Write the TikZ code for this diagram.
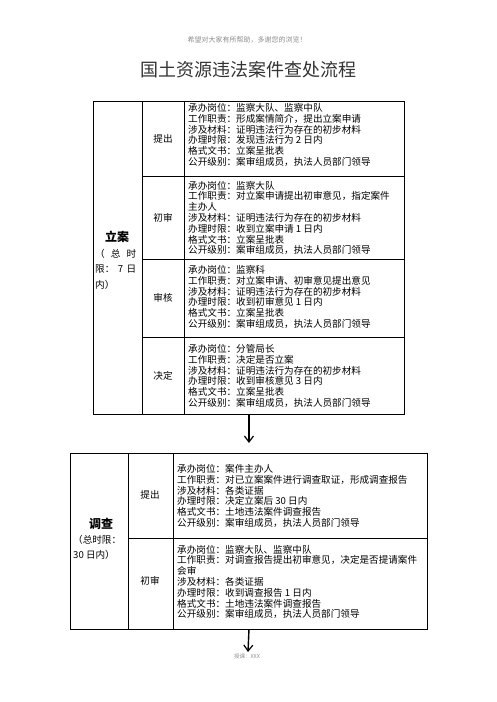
\documentclass[tikz,border=0pt]{standalone}
\usepackage{fontspec}
\setmainfont{Noto Sans CJK SC}
\usetikzlibrary{arrows.meta}
\tikzset{
  kuang/.style={draw=black, line width=0.9pt, inner sep=0pt},
  xian/.style={black, line width=0.9pt},
  jieduan/.style={font=\fontsize{9.6}{10}\selectfont, inner sep=0pt},
  neirong/.style={anchor=west, align=left, inner sep=0pt, font=\fontsize{9.6}{10.8}\selectfont},
  dabiao/.style={font=\fontsize{12}{14}\selectfont\bfseries, inner sep=0pt},
  shixian/.style={anchor=north west, align=left, inner sep=0pt, font=\fontsize{9.6}{15.5}\selectfont},
  jiantou/.style={-{Straight Barb[length=6pt,width=9pt,line width=1.2pt]}, line width=1.4pt},
}
\begin{document}
\begin{tikzpicture}[x=1pt,y=-1pt]
\useasboundingbox (0,0) rectangle (496,702);

% 页眉、标题
\node[font=\fontsize{7}{8}\selectfont, text=black!45] (yemei) at (247,40) {希望对大家有所帮助，多谢您的浏览！};
\node[font=\fontsize{18}{20}\selectfont, text=black!80] (biaoti) at (248,70) {国土资源违法案件查处流程};

% 立案
\node[kuang, minimum width=311, minimum height=313, anchor=north west] (lian) at (93,101) {};
\draw[xian] (142,101) -- (142,414);
\draw[xian] (184,101) -- (184,414);
\foreach \y in {176,259,337}
  \draw[xian] (142,\y) -- (404,\y);

\node[dabiao] (lian-mc) at (117,237) {立案};
\node[shixian] (lian-sx) at (95,249) {\makebox[41pt][s]{（ 总 时}\\\makebox[41pt][s]{限： 7 日}\\内）};

\node[jieduan] (lian-tc) at (163,139) {提出};
\node[neirong] (lian-tc-nr) at (188,135) {承办岗位：监察大队、监察中队\\工作职责：形成案情简介，提出立案申请\\涉及材料：证明违法行为存在的初步材料\\办理时限：发现违法行为 2 日内\\格式文书：立案呈批表\\公开级别：案审组成员，执法人员部门领导};

\node[jieduan] (lian-cs) at (163,218) {初审};
\node[neirong] (lian-cs-nr) at (188,218) {承办岗位：监察大队\\工作职责：对立案申请提出初审意见，指定案件\\主办人\\涉及材料：证明违法行为存在的初步材料\\办理时限：收到立案申请 1 日内\\格式文书：立案呈批表\\公开级别：案审组成员，执法人员部门领导};

\node[jieduan] (lian-sh) at (163,298) {审核};
\node[neirong] (lian-sh-nr) at (188,297) {承办岗位：监察科\\工作职责：对立案申请、初审意见提出意见\\涉及材料：证明违法行为存在的初步材料\\办理时限：收到初审意见 1 日内\\格式文书：立案呈批表\\公开级别：案审组成员，执法人员部门领导};

\node[jieduan] (lian-jd) at (163,376) {决定};
\node[neirong] (lian-jd-nr) at (188,376) {承办岗位：分管局长\\工作职责：决定是否立案\\涉及材料：证明违法行为存在的初步材料\\办理时限：收到审核意见 3 日内\\格式文书：立案呈批表\\公开级别：案审组成员，执法人员部门领导};

% 调查
\node[kuang, minimum width=357, minimum height=176, anchor=north west] (diaocha) at (70,453) {};
\draw[xian] (128,453) -- (128,629);
\draw[xian] (173,453) -- (173,629);
\draw[xian] (128,538) -- (427,538);

\node[dabiao] (dc-mc) at (101,524) {调查};
\node[shixian] (dc-sx) at (73,535) {（总时限：\\30 日内）};

\node[jieduan] (dc-tc) at (150,495) {提出};
\node[neirong] (dc-tc-nr) at (177,496) {承办岗位：案件主办人\\工作职责：对已立案案件进行调查取证，形成调查报告\\涉及材料：各类证据\\办理时限：决定立案后 30 日内\\格式文书：土地违法案件调查报告\\公开级别：案审组成员，执法人员部门领导};

\node[jieduan] (dc-cs) at (150,581) {初审};
\node[neirong] (dc-cs-nr) at (177,582) {承办岗位：监察大队、监察中队\\工作职责：对调查报告提出初审意见，决定是否提请案件\\会审\\涉及材料：各类证据\\办理时限：收到调查报告 1 日内\\格式文书：土地违法案件调查报告\\公开级别：案审组成员，执法人员部门领导};

% 箭头
\draw[jiantou, shorten >=10pt] (lian.south) -- (diaocha.north);
\coordinate (zhongdian) at (248,652);
\draw[jiantou] (diaocha.south) -- (zhongdian);

\node[font=\fontsize{5.5}{6}\selectfont, text=black!45] (yejiao) at (247,656) {授课：XXX};

\end{tikzpicture}
\end{document}
